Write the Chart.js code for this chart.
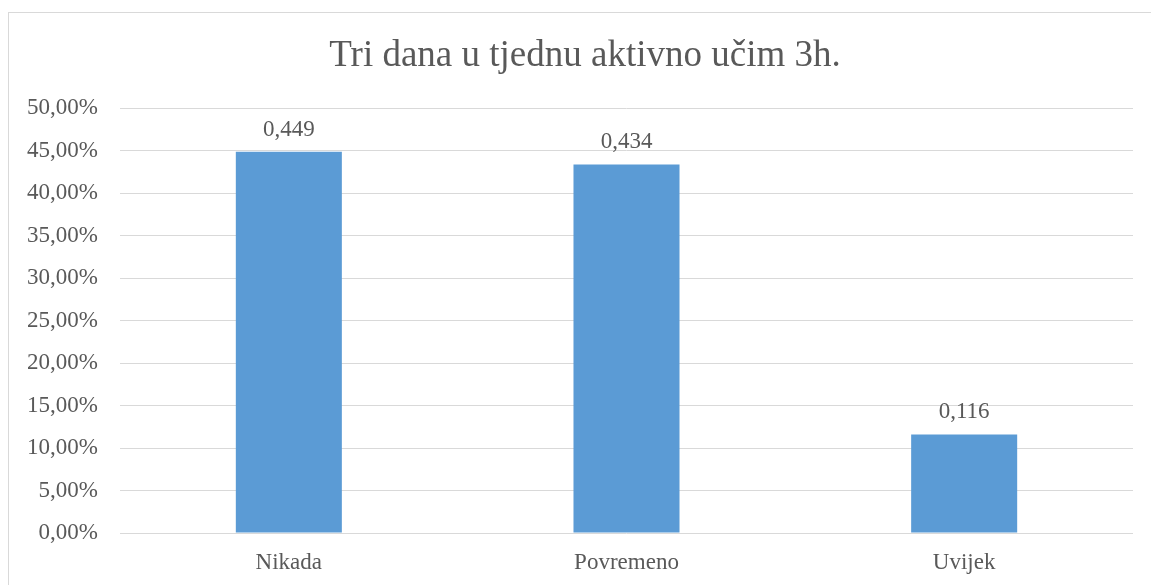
<!DOCTYPE html>
<html>
<head>
<meta charset="utf-8">
<script src="https://cdn.jsdelivr.net/npm/chart.js@4"></script>
<style>
  html, body { margin: 0; padding: 0; background: #fff; overflow: hidden; width: 1151px; height: 585px; }
  #frame { position: absolute; left: 8px; top: 12px; width: 1160px; height: 600px; border: 1px solid #d9d9d9; background: #fff; }
  #wrap { position: absolute; left: 0; top: 0; width: 1152px; height: 596px; }
</style>
</head>
<body>
<div id="frame"><div id="wrap"><canvas id="c"></canvas></div></div>
<script>
const categories = ["Nikada", "Povremeno", "Uvijek"];
const values = [0.449, 0.434, 0.116];
const valueLabels = ["0,449", "0,434", "0,116"];
const titleText = "Tri dana u tjednu aktivno učim 3h.";

const FONT = "'Liberation Serif', 'Times New Roman', serif";
const TXT = "#595959";

const dataLabelPlugin = {
  id: "dataLabels",
  afterLayout(chart) {
    if (chart.titleBlock) {
      chart.titleBlock.left = 0;
      chart.titleBlock.right = chart.width;
      chart.titleBlock.width = chart.width;
    }
  },
  afterDatasetsDraw(chart) {
    const ctx = chart.ctx;
    const meta = chart.getDatasetMeta(0);
    ctx.save();
    ctx.font = "23px " + FONT;
    ctx.fillStyle = TXT;
    ctx.textAlign = "center";
    ctx.textBaseline = "alphabetic";
    meta.data.forEach((el, i) => {
      ctx.fillText(valueLabels[i], el.x, el.y - 16);
    });
    ctx.restore();
  }
};

new Chart(document.getElementById("c"), {
  type: "bar",
  data: {
    labels: categories,
    datasets: [{
      data: values,
      backgroundColor: "#5B9BD5",
      borderWidth: 0,
      categoryPercentage: 1,
      barPercentage: 0.314
    }]
  },
  options: {
    responsive: true,
    maintainAspectRatio: false,
    animation: false,
    layout: { padding: { left: 0, right: 28, top: 0, bottom: 0 } },
    plugins: {
      legend: { display: false },
      tooltip: { enabled: false },
      title: {
        display: true,
        text: titleText,
        color: TXT,
        font: { family: FONT, size: 37, weight: "normal" },
        padding: { top: 21, bottom: 30 }
      }
    },
    scales: {
      x: {
        afterFit(scale) { scale.height = 76; },
        grid: { display: false, drawTicks: false },
        border: { display: false },
        ticks: { color: TXT, font: { family: FONT, size: 23 }, padding: 16 }
      },
      y: {
        min: 0,
        max: 0.5,
        afterFit(scale) { scale.width = 111; },
        grid: { color: "#d9d9d9", lineWidth: 1, drawTicks: false },
        border: { display: false },
        ticks: {
          stepSize: 0.05,
          color: TXT,
          font: { family: FONT, size: 23 },
          padding: 22,
          callback: (v) => (v * 100).toFixed(2).replace(".", ",") + "%"
        }
      }
    }
  },
  plugins: [dataLabelPlugin]
});
</script>
</body>
</html>
